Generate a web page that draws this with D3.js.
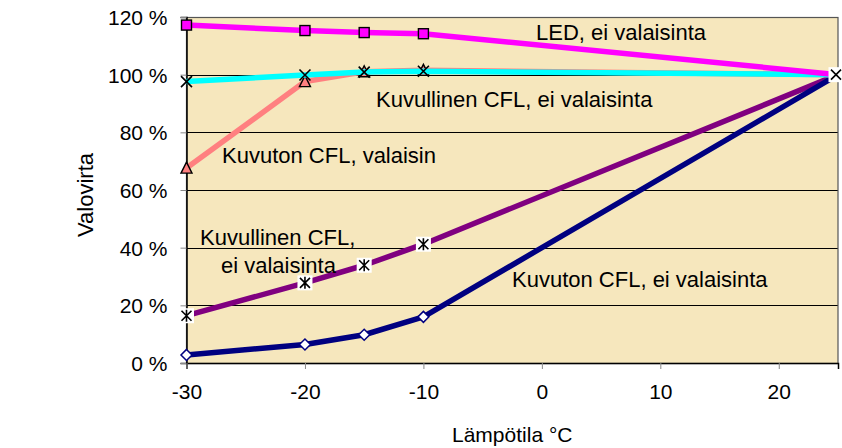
<!DOCTYPE html>
<html>
<head>
<meta charset="utf-8">
<script src="https://cdn.jsdelivr.net/npm/d3@7/dist/d3.min.js"></script>
<style>
  html, body { margin: 0; padding: 0; background: #fff; }
  svg text { font-family: "Liberation Sans", Arial, sans-serif; fill: #000; }
</style>
</head>
<body>
<svg id="chart" width="842" height="448"></svg>
<script>
// Temperature (°C) at which the luminous flux was measured
const temps = [-30, -20, -15, -10, 25];

// Relative luminous flux (%) per lamp type
const ledNoFixture      = [117.2, 115.3, 114.6, 114.2, 100];
const cflCoveredNoFix   = [97.6, 99.9, 100.9, 101.2, 100];
const cflBareFixture    = [67.6, 97.6, 101.0, 101.5, 100];
const cflCoveredNoFix2  = [16.4, 27.8, 33.9, 41.2, 100];
const cflBareNoFix      = [2.8, 6.4, 9.8, 16.0, 100];

const xTicks = [-30, -20, -10, 0, 10, 20];
const yTicks = [0, 20, 40, 60, 80, 100, 120];

const svg = d3.select("#chart");
const plotL = 186.5, plotR = 838, plotT = 17, plotB = 363;

const x = d3.scaleLinear().domain([-30, 25]).range([plotL, plotR]);
const y = d3.scaleLinear().domain([0, 120]).range([plotB, plotT]);

// plot area
svg.append("rect")
  .attr("x", plotL).attr("y", plotT)
  .attr("width", plotR - plotL).attr("height", plotB - plotT)
  .attr("fill", "#F6E7BD");

// horizontal gridlines
svg.append("g").selectAll("line")
  .data(yTicks.filter(d => d > 0 && d < 120))
  .join("line")
  .attr("x1", plotL).attr("x2", plotR)
  .attr("y1", d => Math.round(y(d)) + 0.5).attr("y2", d => Math.round(y(d)) + 0.5)
  .attr("stroke", "#000").attr("stroke-width", 1);

// frame
svg.append("rect")
  .attr("x", plotL).attr("y", plotT + 0.5)
  .attr("width", plotR - plotL).attr("height", plotB - plotT)
  .attr("fill", "none").attr("stroke", "#555").attr("stroke-width", 1.2);

// axes
const yAxis = d3.axisLeft(y).tickValues(yTicks).tickSize(6).tickPadding(13)
  .tickFormat(d => d + " %");
const gy = svg.append("g").attr("transform", `translate(${plotL},0)`).call(yAxis);
gy.select(".domain").attr("stroke", "#000").attr("stroke-width", 1.5);
gy.selectAll(".tick line").attr("stroke", "#888");
gy.selectAll("text").style("font-size", "21px").attr("dy", "0.36em");

const xAxis = d3.axisBottom(x).tickValues(xTicks).tickSize(6).tickPadding(15)
  .tickFormat(d => String(d));
const gx = svg.append("g").attr("transform", `translate(0,${plotB})`).call(xAxis);
gx.select(".domain").attr("stroke", "#000").attr("stroke-width", 1.5);
gx.selectAll(".tick line").attr("stroke", "#888");
gx.selectAll("text").style("font-size", "21px");

// axis titles
svg.append("text")
  .attr("transform", "translate(93,195) rotate(-90)")
  .attr("text-anchor", "middle")
  .style("font-size", "22px")
  .text("Valovirta");
svg.append("text")
  .attr("x", (plotL + plotR) / 2).attr("y", 442)
  .attr("text-anchor", "middle")
  .style("font-size", "21px")
  .text("Lämpötila °C");

const line = d3.line().x(d => x(d[0])).y(d => y(d[1]));
const pts = vals => temps.map((t, i) => [t, vals[i]]);
// markers on the measured points; the shared 25 °C reference point gets its own marker
const measured = vals => pts(vals).slice(0, temps.length - 1);

const layer = svg.append("g");

function drawLine(vals, color) {
  layer.append("path")
    .datum(pts(vals))
    .attr("d", line)
    .attr("fill", "none")
    .attr("stroke", color)
    .attr("stroke-width", 5.5)
    .attr("stroke-linejoin", "round");
}

// purple: asterisks on white boxes
drawLine(cflCoveredNoFix2, "#800080");
measured(cflCoveredNoFix2).forEach(p => {
  const g = layer.append("g").attr("transform", `translate(${x(p[0])},${y(p[1])})`);
  g.append("rect").attr("x", -7.5).attr("y", -7.5).attr("width", 15).attr("height", 15).attr("fill", "#fff");
  g.append("path").attr("d", "M-5,-5L5,5M-5,5L5,-5M0,-6L0,6").attr("stroke", "#000").attr("stroke-width", 1.6);
});

// navy: white diamonds
drawLine(cflBareNoFix, "#000080");
measured(cflBareNoFix).forEach(p => {
  layer.append("path")
    .attr("transform", `translate(${x(p[0])},${y(p[1])})`)
    .attr("d", "M0,-5.5L5.5,0L0,5.5L-5.5,0Z")
    .attr("fill", "#fff").attr("stroke", "#000080").attr("stroke-width", 1.5);
});

// salmon: triangles
drawLine(cflBareFixture, "#FF8080");
measured(cflBareFixture).forEach(p => {
  layer.append("path")
    .attr("transform", `translate(${x(p[0])},${y(p[1])})`)
    .attr("d", "M0,-6L5.5,5L-5.5,5Z")
    .attr("fill", "#FF8080").attr("stroke", "#000").attr("stroke-width", 1.4);
});

// cyan: crosses
drawLine(cflCoveredNoFix, "#00FFFF");
measured(cflCoveredNoFix).forEach(p => {
  layer.append("path")
    .attr("transform", `translate(${x(p[0])},${y(p[1])})`)
    .attr("d", "M-5.5,-5.5L5.5,5.5M-5.5,5.5L5.5,-5.5")
    .attr("stroke", "#000").attr("stroke-width", 1.6);
});

// magenta: squares
drawLine(ledNoFixture, "#FF00FF");
measured(ledNoFixture).forEach(p => {
  layer.append("rect")
    .attr("x", x(p[0]) - 5).attr("y", y(p[1]) - 5)
    .attr("width", 10).attr("height", 10)
    .attr("fill", "#FF00FF").attr("stroke", "#000").attr("stroke-width", 1.4);
});

// common reference point at 25 °C
{
  const g = layer.append("g").attr("transform", `translate(${x(25) - 2},${y(100)})`);
  g.append("rect").attr("x", -7.5).attr("y", -7.5).attr("width", 15).attr("height", 15).attr("fill", "#fff");
  g.append("path").attr("d", "M-5,-5L5,5M-5,5L5,-5").attr("stroke", "#000").attr("stroke-width", 1.6);
}

// series labels
const labels = [
  { text: "LED, ei valaisinta", x: 536, y: 40 },
  { text: "Kuvullinen CFL, ei valaisinta", x: 376, y: 107 },
  { text: "Kuvuton CFL, valaisin", x: 222, y: 163 },
  { text: "Kuvullinen CFL,", x: 200, y: 245 },
  { text: "ei valaisinta", x: 221, y: 273 },
  { text: "Kuvuton CFL, ei valaisinta", x: 512, y: 287 }
];
svg.append("g").selectAll("text")
  .data(labels)
  .join("text")
  .attr("x", d => d.x).attr("y", d => d.y)
  .style("font-size", "22px")
  .text(d => d.text);
</script>
</body>
</html>
